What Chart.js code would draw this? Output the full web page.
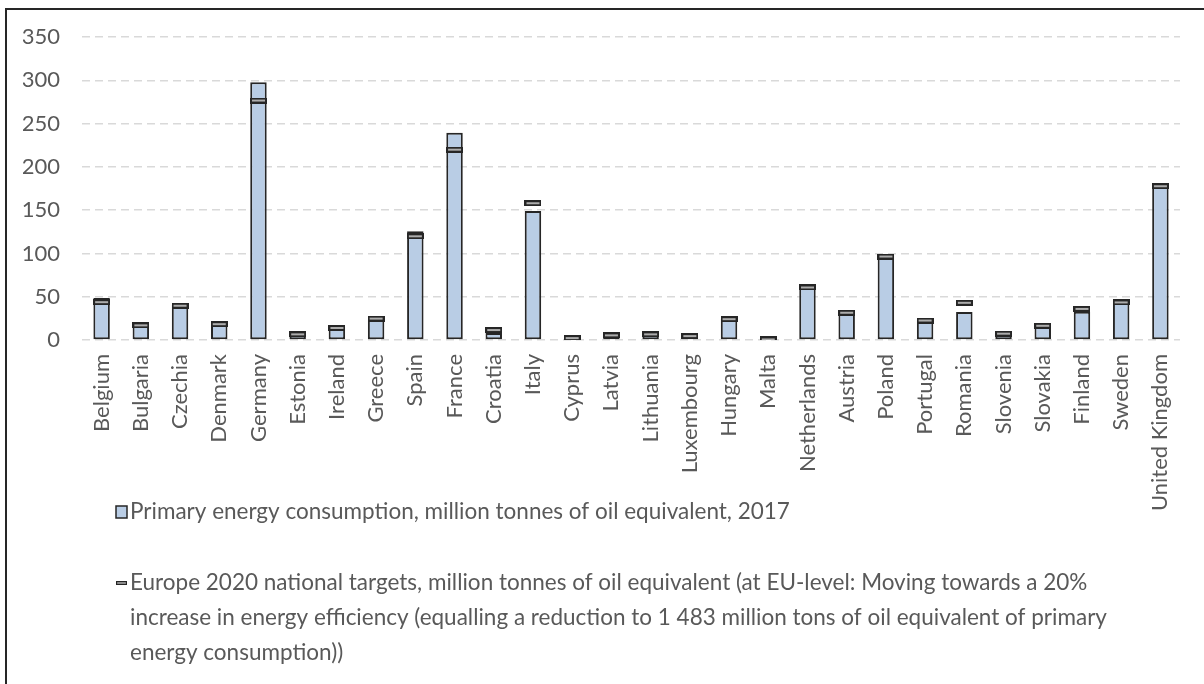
<!DOCTYPE html>
<html>
<head>
<meta charset="utf-8">
<title>Primary energy consumption and Europe 2020 targets</title>
<script src="https://cdn.jsdelivr.net/npm/chart.js@4.4.1/dist/chart.umd.min.js"></script>
<style>
  html, body { margin: 0; padding: 0; background: #fff; overflow: hidden; }
  #wrap { position: relative; width: 1204px; height: 684px; }
  #frame { position: absolute; left: 5px; top: 8px; width: 1300px; height: 800px;
           border: 2px solid #262626; pointer-events: none; }
</style>
</head>
<body>
<div id="wrap">
  <canvas id="chart" width="1204" height="684"></canvas>
  <div id="frame"></div>
</div>
<script>
const countries = [
  'Belgium', 'Bulgaria', 'Czechia', 'Denmark', 'Germany', 'Estonia', 'Ireland',
  'Greece', 'Spain', 'France', 'Croatia', 'Italy', 'Cyprus', 'Latvia',
  'Lithuania', 'Luxembourg', 'Hungary', 'Malta', 'Netherlands', 'Austria',
  'Poland', 'Portugal', 'Romania', 'Slovenia', 'Slovakia', 'Finland', 'Sweden',
  'United Kingdom'
];

// million tonnes of oil equivalent
const consumption2017 = [
  48.5, 18.8, 40.4, 17.5, 297.6, 6.2, 14.8, 23.7, 125.6, 239.4, 8.2, 148.9, 2.5, 4.5,
  6.1, 4.4, 24.5, 0.8, 64.0, 32.2, 99.1, 22.7, 32.4, 6.8, 16.1, 32.5, 45.6, 177.4
];
const targets2020 = [
  43.7, 16.9, 39.6, 18.3, 276.6, 6.5, 13.9, 24.7, 119.8, 219.9, 11.5, 158.0, 2.2, 5.4,
  6.5, 4.5, 24.1, 0.7, 60.7, 31.5, 96.4, 22.5, 43.0, 7.3, 16.4, 35.9, 43.4, 177.6
];

const yMin = 0;
const yMax = 350;
const yStep = 50;

const consumptionLabel = 'Primary energy consumption, million tonnes of oil equivalent, 2017';
const targetLabel = [
  'Europe 2020 national targets, million tonnes of oil equivalent (at EU-level: Moving towards a 20%',
  'increase in energy efficiency (equalling a reduction to 1 483 million tons of oil equivalent of primary',
  'energy consumption))'
];

const barFill = '#B9CDE5';
const barEdge = '#262626';
const textColor = '#595959';
const gridColor = '#D9D9D9';
const fontFamily = 'Lato, "Open Sans", sans-serif';

Chart.defaults.font.family = fontFamily;
Chart.defaults.font.size = 22;
Chart.defaults.color = textColor;

// target dash: dark little box with a grey stripe through the middle
function makeDash(w, h) {
  const c = document.createElement('canvas');
  c.width = w;
  c.height = h;
  const g = c.getContext('2d');
  g.fillStyle = barEdge;
  g.fillRect(0, 0, w, h);
  g.fillStyle = '#ADADAD';
  g.fillRect(2, 2, w - 4, h - 4);
  return c;
}
const targetDash = makeDash(17, 6);

// legend under the axis labels, second entry wraps over three lines
const legendBelow = {
  id: 'legendBelow',
  afterDraw(chart) {
    const ctx = chart.ctx;
    const left = chart.chartArea.left + 34;
    const top = chart.chartArea.bottom + 172;
    ctx.save();
    ctx.font = '22.5px ' + fontFamily;
    ctx.textBaseline = 'middle';

    ctx.fillStyle = barFill;
    ctx.fillRect(left, top - 6, 11, 12);
    ctx.strokeStyle = barEdge;
    ctx.lineWidth = 1.5;
    ctx.strokeRect(left, top - 6, 11, 12);
    ctx.fillStyle = textColor;
    ctx.fillText(consumptionLabel, left + 14, top);

    const top2 = top + 71;
    ctx.drawImage(targetDash, left, top2 - 2, 11, 4);
    targetLabel.forEach((line, i) => {
      ctx.fillText(line, left + 14, top2 + i * 35);
    });
    ctx.restore();
  }
};

new Chart(document.getElementById('chart'), {
  type: 'bar',
  data: {
    labels: countries,
    datasets: [{
      type: 'line',
      label: targetLabel.join(' '),
      data: targets2020,
      showLine: false,
      pointStyle: targetDash,
      pointRadius: 4,
      order: 0
    }, {
      type: 'bar',
      label: consumptionLabel,
      data: consumption2017,
      backgroundColor: barFill,
      borderColor: barEdge,
      borderWidth: 2,
      borderSkipped: false,
      barPercentage: 0.42,
      categoryPercentage: 1,
      order: 1
    }]
  },
  options: {
    responsive: false,
    animation: false,
    layout: { padding: { left: 23, right: 24, top: 37, bottom: 172 } },
    plugins: {
      legend: { display: false },
      tooltip: { enabled: false }
    },
    scales: {
      x: {
        grid: { display: false, drawTicks: false },
        border: { display: false },
        ticks: { minRotation: 90, maxRotation: 90, autoSkip: false, padding: 14 },
        afterFit(scale) { scale.height = 172; }
      },
      y: {
        min: yMin,
        max: yMax,
        ticks: { stepSize: yStep, padding: 22 },
        grid: { color: gridColor, lineWidth: 1.5, drawTicks: false },
        border: { display: false, dash: [8, 5] },
        afterFit(scale) { scale.width = 59; }
      }
    }
  },
  plugins: [legendBelow]
});
</script>
</body>
</html>
